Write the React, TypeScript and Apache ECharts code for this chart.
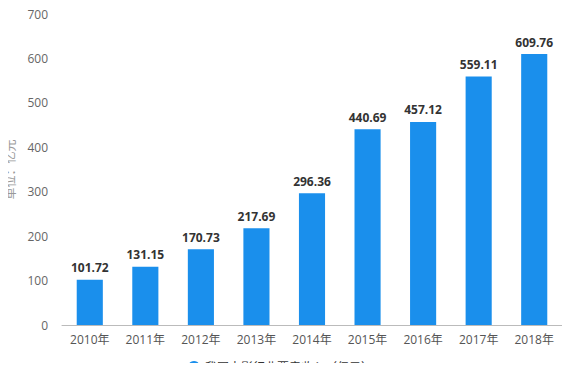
import React, { useEffect, useRef } from "react";
import * as echarts from "echarts";

const categories = ["2010年", "2011年", "2012年", "2013年", "2014年", "2015年", "2016年", "2017年", "2018年"];
const values = [101.72, 131.15, 170.73, 217.69, 296.36, 440.69, 457.12, 559.11, 609.76];
const seriesName = "我国电影行业票房收入（亿元）";
const yAxisName = "单位：亿元";

export default function App() {
  const ref = useRef<HTMLDivElement>(null);
  useEffect(() => {
    const chart = echarts.init(ref.current!, undefined, { renderer: "svg" });
    chart.setOption({
      animation: false,
      textStyle: { fontFamily: "'Open Sans', 'Noto Sans CJK SC', sans-serif" },
      grid: { left: 62, right: 8, top: 14, bottom: 46, outerBoundsMode: "none" },
      legend: {
        data: [seriesName],
        top: 361,
        left: 188,
        padding: 0,
        icon: "circle",
        itemWidth: 12,
        itemHeight: 12,
        itemGap: 6,
        textStyle: { color: "#333", fontSize: 12 },
      },
      xAxis: {
        type: "category",
        data: categories,
        axisLine: { lineStyle: { color: "#bbb" } },
        axisTick: { alignWithLabel: true, lineStyle: { color: "#bbb" } },
        axisLabel: { color: "#555", fontSize: 12, margin: 8 },
      },
      yAxis: {
        type: "value",
        min: 0,
        max: 700,
        interval: 100,
        name: yAxisName,
        nameLocation: "middle",
        nameGap: 43,
        nameTextStyle: { color: "#999", fontSize: 12 },
        axisLine: { show: false },
        axisTick: { show: false },
        splitLine: { show: false },
        axisLabel: { color: "#666", fontSize: 12, margin: 14 },
      },
      series: [
        {
          name: seriesName,
          type: "bar",
          data: values,
          barWidth: "47%",
          itemStyle: { color: "#1a8fec" },
          label: {
            show: true,
            position: "top",
            color: "#333",
            fontWeight: "bold",
            fontSize: 12,
            distance: 6,
          },
        },
      ],
    });
    return () => chart.dispose();
  }, []);
  return <div ref={ref} style={{ width: 570, height: 371, margin: -8 }} />;
}
